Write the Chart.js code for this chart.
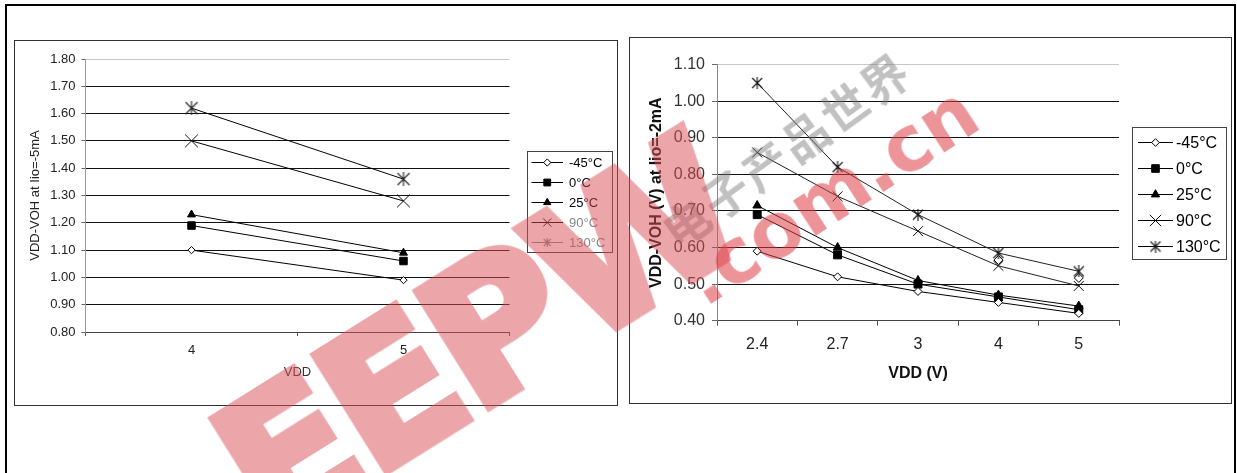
<!DOCTYPE html>
<html>
<head>
<meta charset="utf-8">
<script src="https://cdn.jsdelivr.net/npm/chart.js@4.4.1/dist/chart.umd.min.js"></script>
<style>
  body { margin: 0; background: #fff; width: 1237px; height: 473px; overflow: hidden; position: relative; }
  #frame { position: absolute; left: 5px; top: 4px; width: 1231px; height: 520px; border: 2px solid #000; box-sizing: border-box; }
  .box { position: absolute; border: 1px solid #333; box-sizing: border-box; }
  #box1 { left: 14px; top: 40px; width: 604px; height: 366px; }
  #box2 { left: 629px; top: 37px; width: 603px; height: 367px; }
  canvas { position: absolute; }
  #chart1 { left: 16px; top: 42px; }
  #chart2 { left: 630px; top: 39px; }
  .wm { position: absolute; white-space: nowrap; pointer-events: none; transform: translate(-50%, -50%) rotate(-32deg); }
  #eepw { left: 478px; top: 338px; font: bold 185px "DejaVu Sans"; color: rgb(217, 77, 85); -webkit-text-stroke: 9px rgb(217, 77, 85); opacity: .5; letter-spacing: -6px; }
  #dotcom { left: 830px; top: 195px; font: bold 76px "DejaVu Sans"; color: rgb(222, 60, 70); opacity: .55; transform: translate(-50%, -50%) rotate(-33deg); }
  #cnname { left: 785px; top: 148px; font: bold 46px "Noto Sans CJK SC"; color: #777; opacity: .45; letter-spacing: 3px; transform: translate(-50%, -50%) rotate(-36deg); }
</style>
</head>
<body>
<div id="frame"></div>
<div class="box" id="box1"></div>
<div class="box" id="box2"></div>
<canvas id="chart1" width="600" height="363"></canvas>
<canvas id="chart2" width="601" height="363"></canvas>
<div class="wm" id="cnname">电子产品世界</div>
<div class="wm" id="eepw">EEPW</div>
<div class="wm" id="dotcom">.com.cn</div>

<script>
// left chart : VDD-VOH at Iio=-5mA
const vddLeft = ['4', '5'];
const leftM45 = [1.10, 0.99];
const left0 = [1.19, 1.06];
const left25 = [1.23, 1.09];
const left90 = [1.50, 1.28];
const left130 = [1.62, 1.36];

// right chart : VDD-VOH (V) at Iio=-2mA
const vddRight = ['2.4', '2.7', '3', '4', '5'];
const rightM45 = [0.59, 0.52, 0.48, 0.45, 0.42];
const right0 = [0.69, 0.58, 0.50, 0.465, 0.43];
const right25 = [0.715, 0.60, 0.51, 0.47, 0.44];
const right90 = [0.86, 0.74, 0.645, 0.55, 0.495];
const right130 = [1.05, 0.82, 0.69, 0.585, 0.535];
const rightStray = [null, null, null, 0.566, 0.517]; // stray hollow diamonds on the 130°C points

const tempLabels = ['-45°C', '0°C', '25°C', '90°C', '130°C'];

Chart.defaults.font.family = 'Arial, "Liberation Sans", sans-serif';
Chart.defaults.color = '#111';

// asterisk marker (x + vertical stroke)
function asterisk(size, color) {
  const c = document.createElement('canvas');
  c.width = size; c.height = size;
  const g = c.getContext('2d');
  g.strokeStyle = color;
  g.lineWidth = 1.1;
  const m = size / 2;
  g.beginPath();
  g.moveTo(1, 1); g.lineTo(size - 1, size - 1);
  g.moveTo(size - 1, 1); g.lineTo(1, size - 1);
  g.moveTo(m, 0); g.lineTo(m, size);
  g.stroke();
  return c;
}

// boxed legend, excel style: line with marker in the middle
const boxLegend = {
  id: 'boxLegend',
  afterDraw(chart, args, o) {
    const ctx = chart.ctx;
    const x0 = Math.round(chart.chartArea.right + o.gap);
    ctx.save();
    ctx.strokeStyle = '#444';
    ctx.lineWidth = 1;
    ctx.strokeRect(x0 + 0.5, o.top + 0.5, o.width, o.height);
    ctx.font = o.font;
    ctx.textBaseline = 'middle';
    let row = 0;
    chart.data.datasets.forEach(ds => {
      if (ds.noLegend) return;
      const y = Math.round(o.top + o.first + row * o.step) + 0.5;
      row++;
      ctx.strokeStyle = ds.legendLine || '#000';
      ctx.lineWidth = 1;
      ctx.beginPath();
      ctx.moveTo(x0 + o.lineFrom, y);
      ctx.lineTo(x0 + o.lineTo, y);
      ctx.stroke();
      ctx.fillStyle = ds.pointBackgroundColor;
      ctx.strokeStyle = ds.legendMarker || ds.pointBorderColor;
      Chart.helpers.drawPoint(ctx, {
        pointStyle: ds.legendStyle || ds.pointStyle,
        radius: ds.legendRadius,
        borderWidth: 1,
        rotation: 0
      }, x0 + (o.lineFrom + o.lineTo) / 2, y);
      ctx.fillStyle = ds.legendText || '#000';
      ctx.fillText(ds.label, x0 + o.textX, y + 1);
    });
    ctx.restore();
  }
};

//chart1
{
const data = {
  labels: vddLeft,
  datasets: [
    { label: tempLabels[0], data: leftM45, pointStyle: 'rectRot', pointRadius: 3.6, legendRadius: 3.6,
      pointBackgroundColor: '#fff', pointBorderColor: '#000' },
    { label: tempLabels[1], data: left0, pointStyle: 'rect', pointRadius: 5.3, legendRadius: 4.8,
      pointBackgroundColor: '#000', pointBorderColor: '#000' },
    { label: tempLabels[2], data: left25, pointStyle: 'triangle', pointRadius: 4.6, legendRadius: 4.2,
      pointBackgroundColor: '#000', pointBorderColor: '#000' },
    { label: tempLabels[3], data: left90, pointStyle: 'crossRot', pointRadius: 9, legendRadius: 5.8,
      pointBackgroundColor: '#000', pointBorderColor: '#111', legendText: '#888' },
    { label: tempLabels[4], data: left130, pointStyle: asterisk(14, '#222'), legendStyle: asterisk(9, '#888'),
      pointBackgroundColor: '#000', pointBorderColor: '#222', legendText: '#888', legendLine: '#888' }
  ].map(d => Object.assign({ borderColor: '#000', borderWidth: 1, tension: 0, pointBorderWidth: 1 }, d))
};

const config = {
  type: 'line',
  data: data,
  options: {
    responsive: false,
    animation: false,
    events: [],
    layout: { padding: { left: 0, top: 17, right: 106.5, bottom: 0 } },
    plugins: {
      legend: { display: false },
      tooltip: { enabled: false },
      boxLegend: { gap: 17.5, top: 109, width: 85, height: 101, first: 11, step: 20,
        lineFrom: 4.5, lineTo: 36, textX: 42, font: '13px Arial, "Liberation Sans"' }
    },
    scales: {
      x: {
        offset: true,
        afterFit: s => { s.height = 73; },
        grid: { offset: true, drawOnChartArea: false, tickLength: 4, color: '#555' },
        border: { color: '#444' },
        ticks: { padding: 7, font: { size: 13 }, color: '#222', maxRotation: 0 },
        title: { display: true, text: 'VDD', font: { size: 13 }, color: '#333', padding: { top: 0, bottom: 25 } }
      },
      y: {
        min: 0.8,
        max: 1.8,
        afterFit: s => { s.width = 69.5; },
        grid: {
          color: c => c.tick.value > 1.79 ? '#c8c8c8' : '#111',
          tickColor: '#666',
          tickLength: 4
        },
        border: { color: '#999' },
        ticks: { stepSize: 0.1, padding: 6, font: { size: 13 }, color: '#222', callback: v => v.toFixed(2) },
        title: { display: true, text: 'VDD-VOH at Iio=-5mA', font: { size: 13 }, color: '#222', padding: { top: 12, bottom: 0 } }
      }
    }
  },
  plugins: [boxLegend]
};

const myChart = new Chart(
  document.getElementById('chart1'),
  config
);
}

//chart2
{
const data = {
  labels: vddRight,
  datasets: [
    { label: tempLabels[0], data: rightM45, pointStyle: 'rectRot', pointRadius: 4, legendRadius: 3.8,
      pointBackgroundColor: '#fff', pointBorderColor: '#000' },
    { label: tempLabels[1], data: right0, pointStyle: 'rect', pointRadius: 5.6, legendRadius: 5.4,
      pointBackgroundColor: '#000', pointBorderColor: '#000' },
    { label: tempLabels[2], data: right25, pointStyle: 'triangle', pointRadius: 5, legendRadius: 4.8,
      pointBackgroundColor: '#000', pointBorderColor: '#000' },
    { label: tempLabels[3], data: right90, pointStyle: 'crossRot', pointRadius: 7, legendRadius: 8,
      pointBackgroundColor: '#000', pointBorderColor: '#111', borderColor: '#222' },
    { label: tempLabels[4], data: right130, pointStyle: asterisk(12, '#111'), legendStyle: asterisk(12, '#111'),
      pointBackgroundColor: '#000', pointBorderColor: '#111', borderColor: '#222' },
    { label: '', data: rightStray, noLegend: true, showLine: false, pointStyle: 'rectRot', pointRadius: 4.5,
      pointBackgroundColor: '#fff', pointBorderColor: '#000' }
  ].map(d => Object.assign({ borderColor: '#000', borderWidth: 1, tension: 0, pointBorderWidth: 1 }, d))
};

const config = {
  type: 'line',
  data: data,
  options: {
    responsive: false,
    animation: false,
    events: [],
    layout: { padding: { left: 0, top: 25.7, right: 112, bottom: 0 } },
    plugins: {
      legend: { display: false },
      tooltip: { enabled: false },
      boxLegend: { gap: 13, top: 88, width: 94, height: 132, first: 14.5, step: 26.2,
        lineFrom: 6, lineTo: 41, textX: 44, font: '16px Arial, "Liberation Sans"' }
    },
    scales: {
      x: {
        offset: true,
        afterFit: s => { s.height = 81.3; },
        grid: { offset: true, drawOnChartArea: false, tickLength: 5, color: '#555' },
        border: { color: '#444' },
        ticks: { padding: 9, font: { size: 16 }, color: '#222', maxRotation: 0 },
        title: { display: true, text: 'VDD (V)', font: { size: 16, weight: 'bold' }, color: '#111', padding: { top: 0, bottom: 18.4 } }
      },
      y: {
        min: 0.4,
        max: 1.1,
        afterFit: s => { s.width = 87; },
        grid: {
          color: c => c.tick.value > 1.09 ? '#c8c8c8' : '#111',
          tickColor: '#666',
          tickLength: 5
        },
        border: { color: '#888' },
        ticks: { stepSize: 0.1, padding: 7, font: { size: 16 }, color: '#333', callback: v => v.toFixed(2) },
        title: { display: true, text: 'VDD-VOH (V) at Iio=-2mA', font: { size: 16, weight: 'bold' }, color: '#111', padding: { top: 17.4, bottom: 0 } }
      }
    }
  },
  plugins: [boxLegend]
};

const myChart = new Chart(
  document.getElementById('chart2'),
  config
);
}
</script>
</body>
</html>
